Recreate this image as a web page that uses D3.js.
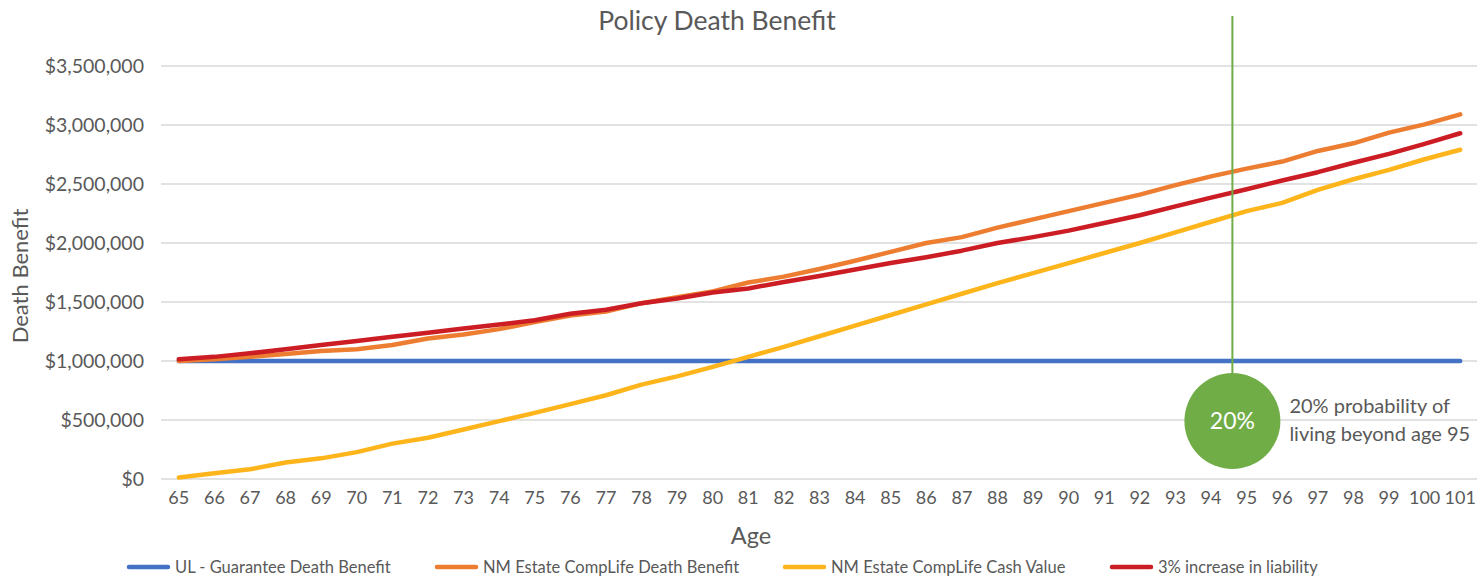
<!DOCTYPE html>
<html>
<head>
<meta charset="utf-8">
<script src="https://cdn.jsdelivr.net/npm/d3@7"></script>
<style>
  html, body { margin: 0; padding: 0; background: #fff; }
  svg { display: block; font-family: Lato, "Open Sans", sans-serif; }
</style>
</head>
<body>
<svg id="chart" width="1477" height="581"></svg>
<script>
const ages = ["65","66","67","68","69","70","71","72","73","74","75","76","77","78","79","80","81","82","83","84","85","86","87","88","89","90","91","92","93","94","95","96","97","98","99","100","101"];

const ulGuarantee = [1000000,1000000,1000000,1000000,1000000,1000000,1000000,1000000,1000000,1000000,1000000,1000000,1000000,1000000,1000000,1000000,1000000,1000000,1000000,1000000,1000000,1000000,1000000,1000000,1000000,1000000,1000000,1000000,1000000,1000000,1000000,1000000,1000000,1000000,1000000,1000000,1000000];

const nmDeathBenefit = [1000000,1015000,1035000,1060000,1085000,1100000,1135000,1190000,1225000,1270000,1330000,1385000,1420000,1490000,1540000,1590000,1665000,1715000,1780000,1850000,1925000,2000000,2050000,2130000,2200000,2270000,2340000,2410000,2490000,2565000,2630000,2690000,2780000,2845000,2935000,3005000,3090000];

const nmCashValue = [12000,48000,82000,140000,175000,228000,300000,350000,420000,490000,560000,635000,710000,800000,870000,950000,1035000,1120000,1210000,1300000,1390000,1480000,1570000,1660000,1745000,1830000,1915000,2000000,2090000,2180000,2270000,2340000,2450000,2540000,2620000,2710000,2790000];

const liability3pct = [1015000,1035000,1065000,1100000,1135000,1170000,1205000,1240000,1275000,1310000,1345000,1400000,1435000,1490000,1530000,1580000,1615000,1670000,1720000,1775000,1830000,1880000,1935000,2000000,2050000,2105000,2170000,2235000,2310000,2385000,2455000,2530000,2600000,2680000,2755000,2840000,2930000];

const seriesNames = ["UL - Guarantee Death Benefit","NM Estate CompLife Death Benefit","NM Estate CompLife Cash Value","3% increase in liability"];
const seriesColors = ["#4472C4","#ED7D31","#FDB51B","#CC1D24"];
const seriesValues = [ulGuarantee, nmDeathBenefit, nmCashValue, liability3pct];

const yTicks = [0,500000,1000000,1500000,2000000,2500000,3000000,3500000];

const markerAge = 94.6;
const markerLabel = "20%";
const markerText = ["20% probability of", "living beyond age 95"];

const chartTitle = "Policy Death Benefit";
const xTitle = "Age";
const yTitle = "Death Benefit";

const svg = d3.select("#chart");
const textColor = "#595959";

const x = d3.scaleBand().domain(ages).range([161, 1478]).padding(0);
const y = d3.scaleLinear().domain([0, 3500000]).range([479, 66]);
const xc = a => x(a) + x.bandwidth() / 2;
const xNum = v => x(ages[0]) + (v - (+ages[0])) * x.bandwidth() + x.bandwidth() / 2;

// title
svg.append("text").attr("x", 717).attr("y", 30).attr("text-anchor", "middle")
  .attr("font-size", 26.5).attr("fill", textColor).text(chartTitle);

// grid
svg.append("g").selectAll("line").data(yTicks).join("line")
  .attr("x1", 161).attr("x2", 1477)
  .attr("y1", d => y(d)).attr("y2", d => y(d))
  .attr("stroke", "#d9d9d9").attr("stroke-width", 1.5);

// y axis
const yAxis = d3.axisLeft(y).tickValues(yTicks)
  .tickFormat(d => "$" + d3.format(",")(d))
  .tickSize(0).tickPadding(17);
const ga = svg.append("g").attr("transform", "translate(161,0)").call(yAxis);
ga.select(".domain").remove();
ga.selectAll("text").attr("font-size", 19.5).attr("fill", textColor).attr("font-family", "Lato, sans-serif");

// x axis
const xAxis = d3.axisBottom(x).tickSize(0).tickPadding(12);
const gx = svg.append("g").attr("transform", "translate(0,479)").call(xAxis);
gx.select(".domain").remove();
gx.selectAll("text").attr("font-size", 18).attr("fill", textColor).attr("font-family", "Lato, sans-serif");

// axis titles
svg.append("text").attr("x", 751).attr("y", 544).attr("text-anchor", "middle")
  .attr("font-size", 23.5).attr("fill", textColor).text(xTitle);
svg.append("text").attr("transform", "translate(28,276) rotate(-90)").attr("text-anchor", "middle")
  .attr("font-size", 22).attr("fill", textColor).text(yTitle);

// lines
const line = d3.line().x((d, i) => xc(ages[i])).y(d => y(d));
seriesValues.forEach((vals, k) => {
  svg.append("path").datum(vals).attr("d", line)
    .attr("fill", "none").attr("stroke", seriesColors[k]).attr("stroke-width", 4.5)
    .attr("stroke-linecap", "round").attr("stroke-linejoin", "round");
});

// marker line + circle
const mx = xNum(markerAge);
const cy = 421, r = 48;
svg.append("line").attr("x1", mx).attr("x2", mx).attr("y1", 16).attr("y2", cy)
  .attr("stroke", "#70AD47").attr("stroke-width", 2);
svg.append("circle").attr("cx", mx).attr("cy", cy).attr("r", r).attr("fill", "#70AD47");
svg.append("text").attr("x", mx).attr("y", cy + 8).attr("text-anchor", "middle")
  .attr("font-size", 23).attr("fill", "#fff").text(markerLabel);
svg.append("text").attr("x", mx + 57).attr("y", 413).attr("font-size", 20).attr("fill", textColor)
  .selectAll("tspan").data(markerText).join("tspan")
  .attr("x", mx + 57).attr("dy", (d, i) => i === 0 ? 0 : 28).text(d => d);

// legend
const legendX = [127, 435, 783, 1110];
const lg = svg.append("g");
seriesNames.forEach((name, k) => {
  lg.append("line").attr("x1", legendX[k] + 2).attr("x2", legendX[k] + 41)
    .attr("y1", 567).attr("y2", 567).attr("stroke", seriesColors[k])
    .attr("stroke-width", 4.5).attr("stroke-linecap", "round");
  lg.append("text").attr("x", legendX[k] + 48).attr("y", 573)
    .attr("font-size", 16.5).attr("fill", textColor).text(name);
});
</script>
</body>
</html>
